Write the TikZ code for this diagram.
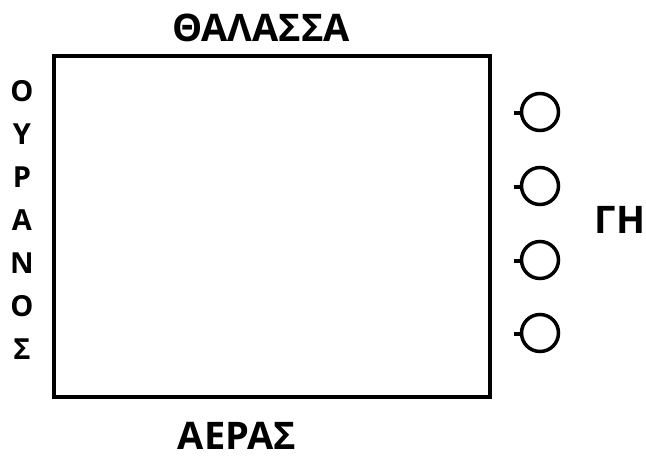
\documentclass[tikz,border=0pt]{standalone}
\usepackage{fontspec}
\setmainfont{Open Sans}[BoldFont={* Bold}]
\usepackage{tikz}
\usetikzlibrary{arrows.meta, positioning}

\begin{document}
\begin{tikzpicture}[
		x=1pt, y=-1pt,
		frame/.style={
			draw=black,
			line width=4pt
		},
		port/.style={
			circle,
			draw=black,
			line width=3.5pt,
			minimum size=37pt,
			inner sep=0pt
		},
		tick/.style={
			line width=3.5pt
		},
		title/.style={
			anchor=base,
			inner sep=0pt,
			text depth=0pt,
			font=\fontsize{38}{42}\selectfont\bfseries
		},
		letter/.style={
			anchor=base,
			inner sep=0pt,
			font=\fontsize{29}{32}\selectfont\bfseries
		}
	]
	\useasboundingbox (0,0) rectangle (646,458);
	
	\draw[frame] (54,56) rectangle (490,397);
	
	\node[title] (sea) at (261,41) {ΘΑΛΑΣΣΑ};
	\node[title] (air) at (237,449) {ΑΕΡΑΣ};
	\node[title] (earth) at (620,233) {ΓΗ};
	
	% vertical word on the left side
	\foreach \l [count=\i] in {Ο,Υ,Ρ,Α,Ν,Ο,Σ}
		\node[letter] (sky\i) at (22,{101+43*(\i-1)}) {\l};
	
	% four ports on the right side
	\foreach \y [count=\i] in {112,186,260,333} {
		\node[port] (p\i) at (540,\y) {};
		\coordinate (t\i) at (514,\y+1);
		\draw[tick] (t\i) -- (p\i.west |- t\i);
	}
	
\end{tikzpicture}
\end{document}
